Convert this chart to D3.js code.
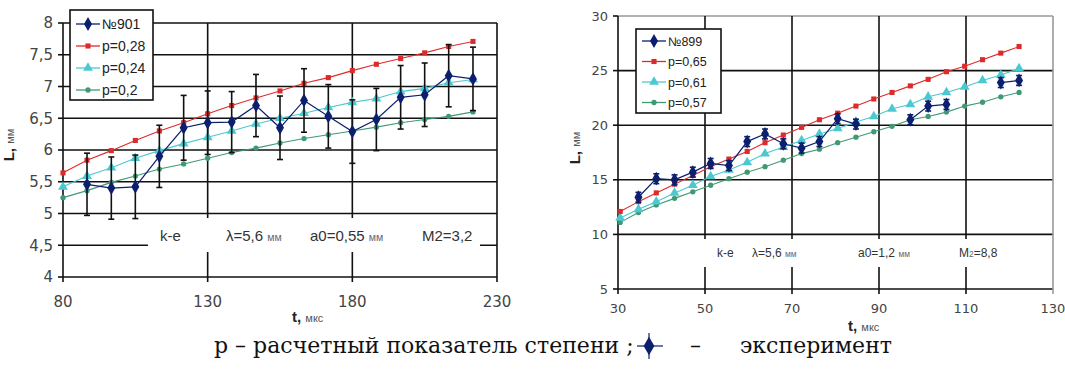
<!DOCTYPE html>
<html>
<head>
<meta charset="utf-8">
<script src="https://cdn.jsdelivr.net/npm/d3@7"></script>
<style>
  body { margin: 0; background: #fff; }
  svg { display: block; }
</style>
</head>
<body>
<svg id="chart" width="1065" height="378"></svg>
<script>
// ---- left panel data (№901) ----
const tLeft = [80, 88.3, 96.7, 105, 113.3, 121.7, 130, 138.3, 146.7, 155, 163.3, 171.7, 180, 188.3, 196.7, 205, 213.3, 221.7];
const expLeft = [null, 5.46, 5.40, 5.42, 5.90, 6.35, 6.43, 6.44, 6.70, 6.35, 6.78, 6.53, 6.29, 6.48, 6.83, 6.87, 7.17, 7.12];
const errLeft = [null, 0.49, 0.49, 0.5, 0.49, 0.51, 0.5, 0.48, 0.49, 0.5, 0.5, 0.5, 0.5, 0.49, 0.5, 0.5, 0.49, 0.5];
const p028 = [5.64, 5.84, 5.99, 6.15, 6.30, 6.43, 6.57, 6.70, 6.82, 6.93, 7.05, 7.14, 7.25, 7.35, 7.44, 7.53, 7.63, 7.71];
const p024 = [5.42, 5.59, 5.72, 5.87, 5.99, 6.10, 6.20, 6.30, 6.41, 6.50, 6.58, 6.67, 6.75, 6.81, 6.92, 6.97, 7.06, 7.11];
const p020 = [5.25, 5.36, 5.49, 5.59, 5.70, 5.78, 5.87, 5.96, 6.03, 6.11, 6.18, 6.24, 6.30, 6.36, 6.43, 6.48, 6.53, 6.60];
const leftYTicks = [4, 4.5, 5, 5.5, 6, 6.5, 7, 7.5, 8];
const leftXTicks = [80, 130, 180, 230];
const leftNames = ["№901", "p=0,28", "p=0,24", "p=0,2"];

// ---- right panel data (№899) ----
const tRight = [30.5, 34.7, 38.8, 43.0, 47.2, 51.3, 55.5, 59.7, 63.8, 68.0, 72.2, 76.3, 80.5, 84.7, 88.8, 93.0, 97.2, 101.3, 105.5, 109.7, 113.8, 118.0, 122.2];
const expRight = [null, 13.4, 15.1, 15.0, 15.7, 16.5, 16.3, 18.5, 19.2, 18.3, 17.9, 18.5, 20.6, 20.1, null, null, 20.5, 21.75, 21.9, null, null, 23.9, 24.1];
const errRight = [null, 0.45, 0.45, 0.45, 0.45, 0.45, 0.45, 0.45, 0.45, 0.45, 0.45, 0.45, 0.45, 0.45, null, null, 0.45, 0.45, 0.45, null, null, 0.45, 0.45];
const p065 = [12.1, 13.0, 13.8, 14.6, 15.4, 16.2, 16.9, 17.6, 18.4, 19.1, 19.8, 20.5, 21.1, 21.75, 22.4, 23.0, 23.6, 24.2, 24.9, 25.4, 26.0, 26.6, 27.2];
const p061 = [11.5, 12.3, 13.0, 13.8, 14.5, 15.3, 15.9, 16.6, 17.4, 18.0, 18.6, 19.2, 19.7, 20.3, 20.8, 21.5, 21.9, 22.6, 23.0, 23.5, 24.1, 24.6, 25.2];
const p057 = [11.1, 12.0, 12.7, 13.3, 13.9, 14.5, 15.1, 15.7, 16.2, 16.8, 17.4, 17.8, 18.4, 18.9, 19.4, 19.9, 20.5, 20.8, 21.2, 21.75, 22.1, 22.6, 23.0];
const rightYTicks = [5, 10, 15, 20, 25, 30];
const rightXTicks = [30, 50, 70, 90, 110, 130];
const rightNames = ["№899", "p=0,65", "p=0,61", "p=0,57"];

const NAVY = "#0b1f6e", RED = "#dd2b2b", CYAN = "#4cc8d0", GREEN = "#3f9a74";
const styles = [
    { color: NAVY, sym: d3.symbolDiamond, size: 55 },
    { color: RED, sym: d3.symbolSquare, size: 26 },
    { color: CYAN, sym: d3.symbolTriangle, size: 42 },
    { color: GREEN, sym: d3.symbolCircle, size: 22 }
];

const svg = d3.select("#chart");
svg.append("rect").attr("width", 1065).attr("height", 378).attr("fill", "#fff");

function drawPanel(o) {
    const x = d3.scaleLinear().domain(o.xDomain).range(o.xRange);
    const y = d3.scaleLinear().domain(o.yDomain).range(o.yRange);
    const g = svg.append("g");

    // horizontal gridlines
    g.selectAll(".hg").data(o.yTicks).enter().append("line")
        .attr("x1", o.xRange[0]).attr("x2", o.xRange[1])
        .attr("y1", d => y(d)).attr("y2", d => y(d))
        .attr("stroke", d => d === o.yDomain[1] ? o.borderColor : "#111")
        .attr("stroke-width", 1.6);
    // vertical gridlines
    g.selectAll(".vg").data(o.xTicks).enter().append("line")
        .attr("x1", d => x(d)).attr("x2", d => x(d))
        .attr("y1", o.yRange[0] + 5).attr("y2", o.yRange[1])
        .attr("stroke", d => d === o.xDomain[1] ? o.borderColor : "#111")
        .attr("stroke-width", 1.6);
    // y ticks
    g.selectAll(".yt").data(o.yTicks).enter().append("line")
        .attr("x1", o.xRange[0] - 5).attr("x2", o.xRange[0])
        .attr("y1", d => y(d)).attr("y2", d => y(d))
        .attr("stroke", "#111").attr("stroke-width", 1.6);

    // tick labels
    g.selectAll(".yl").data(o.yTicks).enter().append("text")
        .attr("x", o.xRange[0] - 10).attr("y", d => y(d))
        .attr("dy", "0.36em").attr("text-anchor", "end")
        .attr("font-family", "DejaVu Sans").attr("font-size", o.tickFont)
        .attr("fill", "#444")
        .text(d => String(d).replace(".", ","));
    g.selectAll(".xl").data(o.xTicks).enter().append("text")
        .attr("x", d => x(d)).attr("y", o.yRange[0] + o.xLabelOff)
        .attr("text-anchor", "middle")
        .attr("font-family", "DejaVu Sans").attr("font-size", o.tickFont)
        .attr("fill", "#444")
        .text(d => d);

    // axis titles
    const xt = g.append("text").attr("x", o.xTitle[0]).attr("y", o.xTitle[1])
        .attr("font-family", "Liberation Sans").attr("fill", "#222");
    xt.append("tspan").attr("font-size", 15).attr("font-weight", "bold").text("t, ");
    xt.append("tspan").attr("font-size", 11).attr("fill", "#555").text("мкс");
    const yt = g.append("text")
        .attr("transform", `translate(${o.yTitle[0]},${o.yTitle[1]}) rotate(-90)`)
        .attr("text-anchor", "middle")
        .attr("font-family", "Liberation Sans").attr("fill", "#222");
    yt.append("tspan").attr("font-size", 15).attr("font-weight", "bold").text("L, ");
    yt.append("tspan").attr("font-size", 11).attr("fill", "#555").text("мм");

    // parameter box
    g.append("rect").attr("x", o.box[0]).attr("y", o.box[1])
        .attr("width", o.box[2]).attr("height", o.box[3]).attr("fill", "#fff");
    o.boxText.forEach(bt => {
        const t = g.append("text").attr("x", bt.x).attr("y", o.boxY)
            .attr("font-family", "Liberation Sans").attr("font-size", o.boxFont)
            .attr("fill", "#333");
        bt.parts.forEach(p => t.append("tspan")
            .attr("font-size", p.small ? o.boxFont * 0.7 : o.boxFont)
            .attr("fill", p.small ? "#667" : "#333")
            .text(p.s));
    });

    const series = [o.exp, o.s1, o.s2, o.s3];
    const line = d3.line().defined(d => d[1] != null)
        .x(d => x(d[0])).y(d => y(d[1]));

    // model curves
    [3, 2, 1].forEach(k => {
        const pts = o.t.map((t, i) => [t, series[k][i]]);
        g.append("path").datum(pts).attr("d", line)
            .attr("fill", "none").attr("stroke", styles[k].color).attr("stroke-width", 1.1);
        g.selectAll(".m" + k).data(pts).enter().append("path")
            .attr("transform", d => `translate(${x(d[0])},${y(d[1])})`)
            .attr("d", d3.symbol().type(styles[k].sym).size(styles[k].size))
            .attr("fill", styles[k].color);
    });

    // experiment with error bars
    const ep = o.t.map((t, i) => [t, o.exp[i], o.err[i]]);
    const eb = ep.filter(d => d[1] != null);
    g.selectAll(".eb").data(eb).enter().append("line")
        .attr("x1", d => x(d[0])).attr("x2", d => x(d[0]))
        .attr("y1", d => y(d[1] - d[2])).attr("y2", d => y(d[1] + d[2]))
        .attr("stroke", o.errColor).attr("stroke-width", 1.6);
    [1, -1].forEach(sgn => {
        g.selectAll(".cap").data(eb).enter().append("line")
            .attr("x1", d => x(d[0]) - 3).attr("x2", d => x(d[0]) + 3)
            .attr("y1", d => y(d[1] + sgn * d[2])).attr("y2", d => y(d[1] + sgn * d[2]))
            .attr("stroke", o.errColor).attr("stroke-width", 1.6);
    });
    g.append("path").datum(ep).attr("d", line)
        .attr("fill", "none").attr("stroke", NAVY).attr("stroke-width", 1.2);
    g.selectAll(".me").data(eb).enter().append("path")
        .attr("transform", d => `translate(${x(d[0])},${y(d[1])})`)
        .attr("d", d3.symbol().type(d3.symbolDiamond).size(styles[0].size))
        .attr("fill", NAVY);

    // legend
    const L = o.legend;
    g.append("rect").attr("x", L.x).attr("y", L.y).attr("width", L.w).attr("height", L.h)
        .attr("fill", "#fff").attr("stroke", "#111").attr("stroke-width", 1.6);
    o.names.forEach((name, k) => {
        const cy = L.y + L.first + k * L.step;
        g.append("line").attr("x1", L.x + 6).attr("x2", L.x + 30)
            .attr("y1", cy).attr("y2", cy)
            .attr("stroke", styles[k].color).attr("stroke-width", 1.3);
        g.append("path").attr("transform", `translate(${L.x + 18},${cy})`)
            .attr("d", d3.symbol().type(styles[k].sym).size(styles[k].size))
            .attr("fill", styles[k].color);
        g.append("text").attr("x", L.x + 32).attr("y", cy).attr("dy", "0.36em")
            .attr("font-family", "Liberation Sans").attr("font-size", L.font)
            .attr("fill", "#222").text(name);
    });
}

drawPanel({
    t: tLeft, exp: expLeft, err: errLeft, s1: p028, s2: p024, s3: p020, names: leftNames,
    xDomain: [80, 230], xRange: [63, 497], yDomain: [4, 8], yRange: [277, 23],
    xTicks: leftXTicks, yTicks: leftYTicks, borderColor: "#111", errColor: "#111",
    tickFont: 15, xLabelOff: 30, xTitle: [292, 322], yTitle: [14, 145],
    box: [148, 218, 332, 34], boxY: 241, boxFont: 15,
    boxText: [
        { x: 160, parts: [{ s: "k-e" }] },
        { x: 226, parts: [{ s: "λ=5,6 " }, { s: "мм", small: true }] },
        { x: 310, parts: [{ s: "a0=0,55 " }, { s: "мм", small: true }] },
        { x: 422, parts: [{ s: "M2=3,2" }] }
    ],
    legend: { x: 70, y: 10, w: 83, h: 90, first: 14, step: 22, font: 14 }
});

drawPanel({
    t: tRight, exp: expRight, err: errRight, s1: p065, s2: p061, s3: p057, names: rightNames,
    xDomain: [30, 130], xRange: [618, 1053], yDomain: [5, 30], yRange: [289, 16],
    xTicks: rightXTicks, yTicks: rightYTicks, borderColor: "#999", errColor: NAVY,
    tickFont: 13, xLabelOff: 24, xTitle: [848, 331], yTitle: [580, 148],
    box: [700, 239, 340, 28], boxY: 257, boxFont: 12,
    boxText: [
        { x: 717, parts: [{ s: "k-e" }] },
        { x: 752, parts: [{ s: "λ=5,6 " }, { s: "мм", small: true }] },
        { x: 858, parts: [{ s: "a0=1,2 " }, { s: "мм", small: true }] },
        { x: 959, parts: [{ s: "M" }, { s: "2", small: true }, { s: "=8,8" }] }
    ],
    legend: { x: 636, y: 29, w: 85, h: 84, first: 12, step: 20.5, font: 12.5 }
});

// caption
const cap = svg.append("g");
const first = cap.append("text").attr("x", 214).attr("y", 353)
    .attr("font-family", "DejaVu Serif").attr("font-size", 18).attr("fill", "#111")
    .text("р – расчетный показатель степени ;");
const capFont = 18 * 420 / first.node().getComputedTextLength();
first.attr("font-size", capFont);
cap.append("line").attr("x1", 649).attr("x2", 649).attr("y1", 333).attr("y2", 359)
    .attr("stroke", NAVY).attr("stroke-width", 1.2);
cap.append("line").attr("x1", 637).attr("x2", 663).attr("y1", 346).attr("y2", 346)
    .attr("stroke", NAVY).attr("stroke-width", 1.2);
cap.append("path").attr("transform", "translate(649,346)")
    .attr("d", d3.symbol().type(d3.symbolDiamond).size(100)).attr("fill", NAVY);
cap.append("text").attr("x", 690).attr("y", 353)
    .attr("font-family", "DejaVu Serif").attr("font-size", capFont).attr("fill", "#111")
    .text("–");
cap.append("text").attr("x", 740).attr("y", 353)
    .attr("font-family", "DejaVu Serif").attr("font-size", capFont).attr("fill", "#111")
    .text("эксперимент");
</script>
</body>
</html>
